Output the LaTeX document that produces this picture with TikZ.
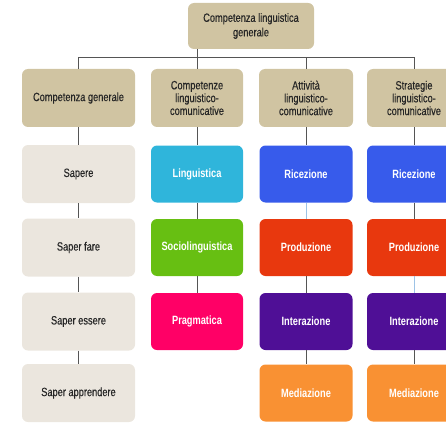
\documentclass[tikz,border=0pt]{standalone}
\usepackage{fontspec}
\setmainfont[FakeStretch=0.77, UprightFeatures={FakeBold=0.35}]{Liberation Sans}
\usepackage{tikz}

\definecolor{tanhead}{RGB}{208,196,162}
\definecolor{sandbox}{RGB}{235,230,222}
\definecolor{cyanbox}{RGB}{47,181,219}
\definecolor{greenbox}{RGB}{103,191,18}
\definecolor{pinkbox}{RGB}{255,0,102}
\definecolor{bluebox}{RGB}{55,91,235}
\definecolor{redbox}{RGB}{232,56,14}
\definecolor{purplebox}{RGB}{79,15,150}
\definecolor{orangebox}{RGB}{249,145,51}
\definecolor{linkgray}{RGB}{85,85,85}
\definecolor{linkblue}{RGB}{157,195,230}

\begin{document}
\begin{tikzpicture}[
  x=1pt, y=-1pt,
  every node/.style={rectangle, rounded corners=6pt, align=center,
                     inner sep=0pt, font=\fontsize{12}{12.8}\selectfont},
  head/.style={fill=tanhead, text=black!85, minimum height=58pt},
  light/.style={fill=sandbox, text=black!85, minimum width=113pt, minimum height=58pt},
  dark/.style={fill=#1, text=white, font=\fontsize{12}{12.8}\selectfont\bfseries,
               minimum width=93pt, minimum height=57pt},
  link/.style={draw=linkgray, line width=0.9pt},
  paleline/.style={draw=linkblue, line width=0.9pt}
]

\useasboundingbox (0,0) rectangle (446,422);
\clip (0,0) rectangle (446,422);

% top
\node[head, minimum width=126pt, minimum height=46pt,
      font=\fontsize{12}{14.5}\selectfont] (top) at (251,26)
  {Competenza linguistica\\generale};

% headers
\node[head, minimum width=113pt] (hd1) at (78.5,98) {Competenza generale};
\node[head, minimum width=92pt] (hd2) at (197,98)
  {Competenze\\linguistico-\\comunicative};
\node[head, minimum width=94pt] (hd3) at (306,98)
  {Attività\\linguistico-\\comunicative};
\node[head, minimum width=94pt] (hd4) at (414,98)
  {Strategie\\linguistico-\\comunicative};

% column 1
\node[light] (sa1) at (78.5,174) {Sapere};
\node[light] (sa2) at (78.5,247.5) {Saper fare};
\node[light] (sa3) at (78.5,321.5) {Saper essere};
\node[light] (sa4) at (78.5,393) {Saper apprendere};

% column 2
\node[dark=cyanbox, minimum width=92pt] (cl1) at (197,174) {Linguistica};
\node[dark=greenbox, minimum width=92pt] (cl2) at (197,247.5) {Sociolinguistica};
\node[dark=pinkbox, minimum width=92pt] (cl3) at (197,321.5) {Pragmatica};

% column 3
\node[dark=bluebox] (at1) at (306,174) {Ricezione};
\node[dark=redbox] (at2) at (306,247.5) {Produzione};
\node[dark=purplebox] (at3) at (306,321.5) {Interazione};
\node[dark=orangebox] (at4) at (306,393) {Mediazione};

% column 4
\node[dark=bluebox, minimum width=94pt] (st1) at (414,174) {Ricezione};
\node[dark=redbox, minimum width=94pt] (st2) at (414,247.5) {Produzione};
\node[dark=purplebox, minimum width=94pt] (st3) at (414,321.5) {Interazione};
\node[dark=orangebox, minimum width=94pt] (st4) at (414,393) {Mediazione};

% connectors
\coordinate (bus) at (197,57);
\draw[link] (top.south -| hd2) -- (bus);
\draw[link] (hd1.north) -- (hd1.north |- bus) -- (hd4.north |- bus) -- (hd4.north);
\draw[link] (hd2.north) -- (hd2.north |- bus);
\draw[link] (hd3.north) -- (hd3.north |- bus);

\draw[link] (hd1) -- (sa1);
\draw[link] (sa1) -- (sa2);
\draw[link] (sa2) -- (sa3);
\draw[link] (sa3) -- (sa4);

\draw[link] (hd2) -- (cl1);
\draw[link] (cl1) -- (cl2);
\draw[link] (cl2) -- (cl3);

\draw[link] (hd3) -- (at1);
\draw[paleline] (at1) -- (at2);
\draw[link] (at2) -- (at3);
\draw[link] (at3) -- (at4);

\draw[link] (hd4) -- (st1);
\draw[link] (st1) -- (st2);
\draw[paleline] (st2) -- (st3);
\draw[link] (st3) -- (st4);

\end{tikzpicture}
\end{document}
